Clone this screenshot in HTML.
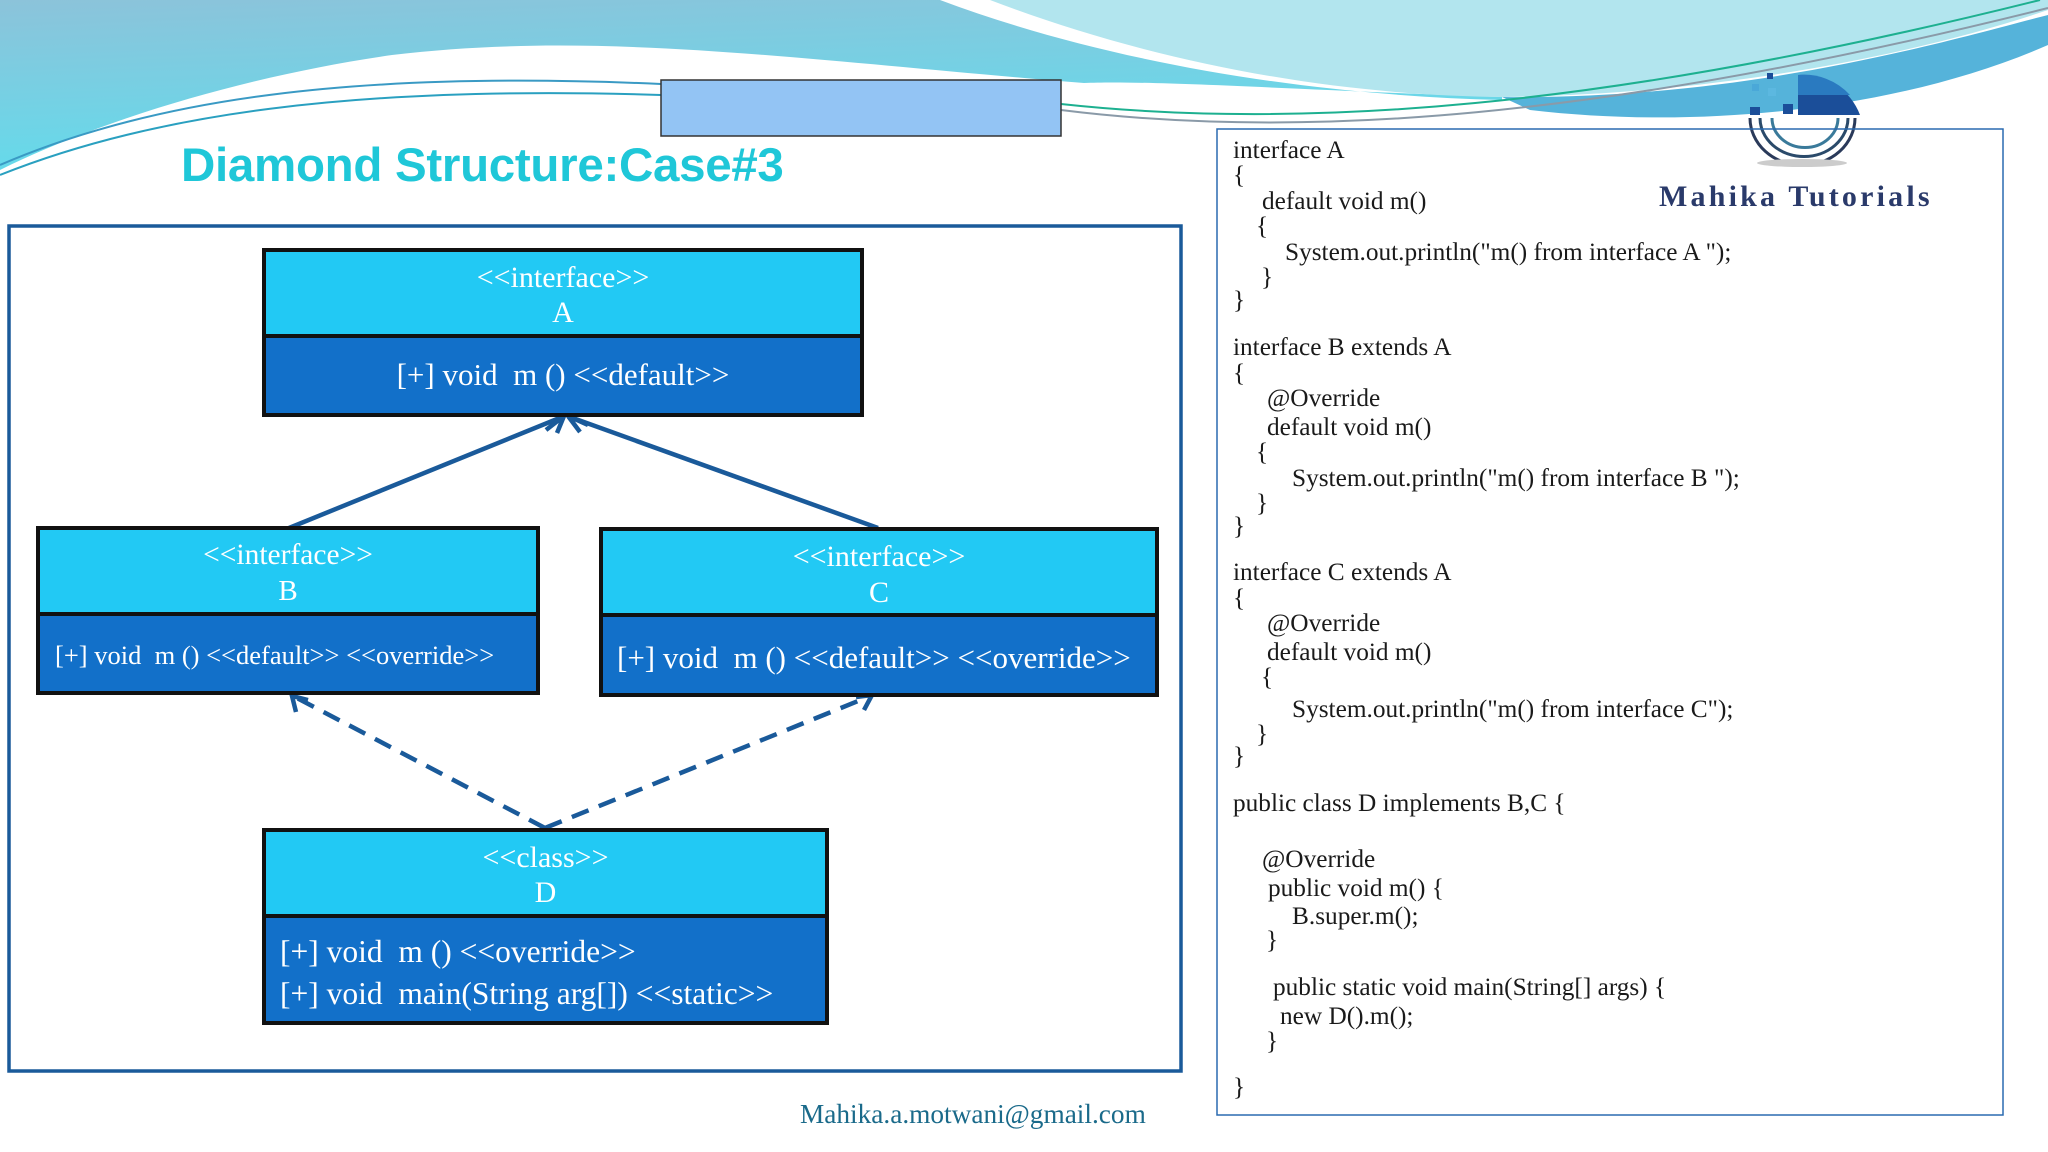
<!DOCTYPE html>
<html><head><meta charset="utf-8">
<style>
html,body{margin:0;padding:0}
body{width:2048px;height:1152px;position:relative;overflow:hidden;background:#fff;font-family:"Liberation Serif",serif}
.abs{position:absolute}
.box{position:absolute;border:4px solid #111;box-sizing:border-box}
.hd{position:absolute;left:0;right:0;top:0;background:#22c9f4;border-bottom:4px solid #111;color:#fff;text-align:center}
.bd{position:absolute;left:0;right:0;bottom:0;background:#1270c9;color:#fff}
.t{position:absolute;left:0;right:0;text-align:center;white-space:nowrap;line-height:1}
.code{position:absolute;font-size:25.3px;color:#1a1a1a;white-space:nowrap;line-height:1}
</style></head><body>
<svg class="abs" style="left:0;top:0" width="2048" height="1152">
<defs>
<linearGradient id="g1" x1="0" y1="0" x2="0.3" y2="1">
<stop offset="0" stop-color="#8cc3da"/><stop offset="1" stop-color="#62dcec"/></linearGradient>
</defs>
<path d="M0,0 L940,0 C1100,60 1300,95 1502,100 L1502,97 C1300,90 1150,80 1084,83 C800,60 600,30 392,55 C250,75 100,120 0,170 Z" fill="url(#g1)"/>
<path d="M990,0 L2048,0 L2048,10 C1900,60 1700,95 1502,97 C1300,95 1120,50 990,0 Z" fill="#b2e5ee"/>
<path d="M1502,97 C1750,100 1950,40 2048,15 L2048,45 C1900,110 1700,130 1530,110 Z" fill="#55b3da"/>
<path d="M0,165 C150,100 350,70 661,84" stroke="#3a9ac4" stroke-width="2" fill="none"/>
<path d="M0,175 C150,115 350,85 661,95" stroke="#2aa0c0" stroke-width="2" fill="none"/>
<path d="M1061,104 C1300,130 1600,110 2040,0" stroke="#1db090" stroke-width="2" fill="none"/>
<path d="M1061,110 C1300,140 1600,120 2048,8" stroke="#8a9aa8" stroke-width="2" fill="none"/>
<!-- logo -->
<path d="M1798,75 A62,62 0 0 1 1860,115 L1798,115 Z" fill="#1b4e99"/>
<path d="M1798,75 A62,62 0 0 1 1850,95 L1798,95 Z" fill="#2a7ac0"/>
<rect x="1750" y="107" width="10" height="8" fill="#1b4e99"/><rect x="1783" y="104" width="10" height="10" fill="#1b4e99"/>
<rect x="1752" y="84" width="7" height="7" fill="#4aa8d8"/><rect x="1768" y="88" width="8" height="8" fill="#5cb8e0"/><rect x="1767" y="73" width="6" height="6" fill="#1b4e99"/>
<path d="M1750,118 A50,45 0 0 0 1855,118" stroke="#2a3a5a" stroke-width="3" fill="none"/>
<path d="M1760,118 A40,35 0 0 0 1848,118" stroke="#2a4a6a" stroke-width="3" fill="none"/>
<path d="M1772,118 A28,25 0 0 0 1838,118" stroke="#3a7a9a" stroke-width="3" fill="none"/>
<ellipse cx="1802" cy="163" rx="45" ry="4" fill="#ccc"/>
<!-- diagram frame -->
<rect x="9" y="226" width="1172" height="845" fill="none" stroke="#1a5a9a" stroke-width="3.5"/>
<rect x="661" y="80" width="400" height="56" fill="#93c4f4" stroke="#333" stroke-width="1.5"/>
<!-- arrows -->
<g stroke="#1a5a9a" stroke-width="4.5" fill="none">
<line x1="289" y1="528" x2="562" y2="417"/>
<line x1="878" y1="528" x2="570" y2="417"/>
<path d="M546,430 L564,416 L557,433"/>
<path d="M580,432 L568,416 L588,425"/>
<line x1="545" y1="828" x2="295" y2="697" stroke-dasharray="18,11"/>
<line x1="545" y1="828" x2="868" y2="697" stroke-dasharray="18,11"/>
<path d="M296,712 L292,696 L308,700"/>
<path d="M856,697 L872,695 L864,710"/>
</g>
<rect x="1217" y="129" width="786" height="986" fill="none" stroke="#2a6ab0" stroke-width="1.5"/>
</svg>

<div class="abs" style="left:181px;top:138px;font:bold 47.5px 'Liberation Sans',sans-serif;color:#1fc7d8;white-space:nowrap;letter-spacing:-0.3px">Diamond Structure:Case#3</div>
<div class="abs" style="left:1659px;top:180px;font:bold 30px 'Liberation Serif',serif;color:#2a3a6a;letter-spacing:3.2px;white-space:nowrap">Mahika Tutorials</div>

<div class="box" style="left:262px;top:248px;width:602px;height:169px">
 <div class="hd" style="height:82px"><div class="t" style="top:11px;font-size:30px">&lt;&lt;interface&gt;&gt;</div><div class="t" style="top:46px;font-size:30px">A</div></div>
 <div class="bd" style="top:86px"><div class="t" style="top:21px;font-size:31px">[+] void&nbsp; m () &lt;&lt;default&gt;&gt;</div></div>
</div>
<div class="box" style="left:36px;top:526px;width:504px;height:169px">
 <div class="hd" style="height:82px"><div class="t" style="top:11px;font-size:29.5px">&lt;&lt;interface&gt;&gt;</div><div class="t" style="top:47px;font-size:29px">B</div></div>
 <div class="bd" style="top:86px"><div class="t" style="top:26px;font-size:26.5px;text-align:left;padding-left:15px">[+] void&nbsp; m () &lt;&lt;default&gt;&gt; &lt;&lt;override&gt;&gt;</div></div>
</div>
<div class="box" style="left:599px;top:527px;width:560px;height:170px">
 <div class="hd" style="height:82px"><div class="t" style="top:11px;font-size:30px">&lt;&lt;interface&gt;&gt;</div><div class="t" style="top:47px;font-size:30px">C</div></div>
 <div class="bd" style="top:86px"><div class="t" style="top:25px;font-size:31px;text-align:left;padding-left:14px">[+] void&nbsp; m () &lt;&lt;default&gt;&gt; &lt;&lt;override&gt;&gt;</div></div>
</div>
<div class="box" style="left:262px;top:828px;width:567px;height:197px">
 <div class="hd" style="height:82px"><div class="t" style="top:11px;font-size:30px">&lt;&lt;class&gt;&gt;</div><div class="t" style="top:46px;font-size:30px">D</div></div>
 <div class="bd" style="top:86px"><div class="t" style="top:18px;font-size:31.5px;text-align:left;padding-left:14px">[+] void&nbsp; m () &lt;&lt;override&gt;&gt;</div><div class="t" style="top:60px;font-size:31.5px;text-align:left;padding-left:14px">[+] void&nbsp; main(String arg[]) &lt;&lt;static&gt;&gt;</div></div>
</div>

<div class="code" style="left:1233px;top:138px">interface A</div>
<div class="code" style="left:1233px;top:163px">{</div>
<div class="code" style="left:1262px;top:189px">default void m()</div>
<div class="code" style="left:1256px;top:214px">{</div>
<div class="code" style="left:1285px;top:240px">System.out.println("m() from interface A ");</div>
<div class="code" style="left:1261px;top:265px">}</div>
<div class="code" style="left:1233px;top:288px">}</div>
<div class="code" style="left:1233px;top:335px">interface B extends A</div>
<div class="code" style="left:1233px;top:361px">{</div>
<div class="code" style="left:1267px;top:386px">@Override</div>
<div class="code" style="left:1267px;top:415px">default void m()</div>
<div class="code" style="left:1256px;top:440px">{</div>
<div class="code" style="left:1292px;top:466px">System.out.println("m() from interface B ");</div>
<div class="code" style="left:1256px;top:491px">}</div>
<div class="code" style="left:1233px;top:514px">}</div>
<div class="code" style="left:1233px;top:560px">interface C extends A</div>
<div class="code" style="left:1233px;top:586px">{</div>
<div class="code" style="left:1267px;top:611px">@Override</div>
<div class="code" style="left:1267px;top:640px">default void m()</div>
<div class="code" style="left:1261px;top:665px">{</div>
<div class="code" style="left:1292px;top:697px">System.out.println("m() from interface C");</div>
<div class="code" style="left:1256px;top:722px">}</div>
<div class="code" style="left:1233px;top:744px">}</div>
<div class="code" style="left:1233px;top:791px">public class D implements B,C {</div>
<div class="code" style="left:1262px;top:847px">@Override</div>
<div class="code" style="left:1268px;top:876px">public void m() {</div>
<div class="code" style="left:1292px;top:904px">B.super.m();</div>
<div class="code" style="left:1266px;top:928px">}</div>
<div class="code" style="left:1273px;top:975px">public static void main(String[] args) {</div>
<div class="code" style="left:1280px;top:1004px">new D().m();</div>
<div class="code" style="left:1266px;top:1029px">}</div>
<div class="code" style="left:1233px;top:1075px">}</div>

<div class="abs" style="left:800px;top:1099px;font-size:27.3px;color:#1a6a8a;white-space:nowrap">Mahika.a.motwani@gmail.com</div>
</body></html>
